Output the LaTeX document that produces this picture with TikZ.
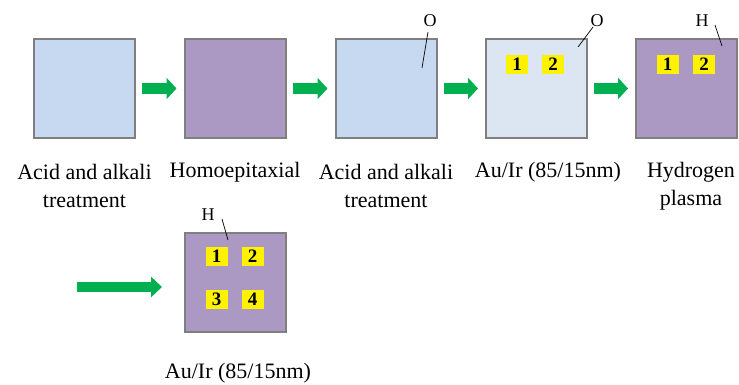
\documentclass[tikz,border=0pt]{standalone}
\usepackage{fontspec}
\setmainfont{LiberationSerif}[Extension=.ttf, UprightFont=*-Regular, BoldFont=*-Bold, ItalicFont=*-Italic, BoldItalicFont=*-BoldItalic]
\usetikzlibrary{arrows.meta}
\definecolor{lblue}{HTML}{C6D9F1}
\definecolor{llblue}{HTML}{DCE6F2}
\definecolor{lpurple}{HTML}{AB99C3}
\definecolor{agreen}{HTML}{00B050}
\definecolor{bgray}{HTML}{7F7F7F}
\tikzset{
  sample/.style={draw=bgray, line width=2pt, minimum width=101pt, minimum height=99pt, inner sep=0pt},
  lab/.style={font=\rmfamily\fontsize{22}{28}\selectfont, align=center, inner sep=0pt},
  atom/.style={font=\rmfamily\fontsize{18}{18}\selectfont, inner sep=1pt},
  pad/.style={fill=yellow, minimum width=22pt, minimum height=19pt, inner sep=0pt, font=\rmfamily\fontsize{19}{19}\selectfont\bfseries},
  flow/.style={draw=agreen, line width=11pt, -{Triangle[length=10pt,width=21pt]}},
  tick/.style={draw=black, line width=0.7pt}
}
\begin{document}
\begin{tikzpicture}[x=1pt,y=-1pt]
\useasboundingbox (0,0) rectangle (739,385);
% samples
\node[sample, fill=lblue]   (s1) at (84.5,88.5) {};
\node[sample, fill=lpurple] (s2) at (235,88.5) {};
\node[sample, fill=lblue]   (s3) at (386,88.5) {};
\node[sample, fill=llblue]  (s4) at (536.5,88.5) {};
\node[sample, fill=lpurple] (s5) at (686.5,88.5) {};
\node[sample, fill=lpurple] (s6) at (235.5,282.5) {};
% arrows
\draw[flow, shorten <=6pt, shorten >=7pt] (s1.east) -- (s2.west);
\draw[flow, shorten <=6pt, shorten >=7pt] (s2.east) -- (s3.west);
\draw[flow, shorten <=6pt, shorten >=7pt] (s3.east) -- (s4.west);
\draw[flow, shorten <=6pt, shorten >=7pt] (s4.east) -- (s5.west);
\coordinate (start) at (77,287);
\draw[draw=agreen, line width=10pt, -{Triangle[length=11pt,width=20pt]}, shorten >=22pt] (start) -- (start -| s6.west);
% labels
\node[lab] (l1) at (84.5,186) {Acid and alkali\\treatment};
\node[lab] (l2) at (235,172.5) {Homoepitaxial};
\node[lab] (l3) at (386,186) {Acid and alkali\\treatment};
\node[lab] (l4) at (548,172.5) {Au/Ir (85/15nm)};
\node[lab] (l5) at (691,186) {Hydrogen\\plasma};
\node[lab] (l6) at (238,373) {Au/Ir (85/15nm)};
% surface terminations
\node[atom] (o3) at (430,21) {O};
\coordinate (o3a) at (428,32); \coordinate (o3b) at (422,68);
\draw[tick] (o3a) -- (o3b);
\node[atom] (o4) at (597,21) {O};
\coordinate (o4a) at (593,27); \coordinate (o4b) at (578,47);
\draw[tick] (o4a) -- (o4b);
\node[atom] (h5) at (702,21) {H};
\coordinate (h5a) at (715,25); \coordinate (h5b) at (722,46);
\draw[tick] (h5a) -- (h5b);
\node[atom] (h6) at (208,215) {H};
\coordinate (h6a) at (222,219); \coordinate (h6b) at (228,240);
\draw[tick] (h6a) -- (h6b);
% contact pads
\node[pad] (p41) at (517,64.5) {1};
\node[pad] (p42) at (553,64.5) {2};
\node[pad] (p51) at (667.5,64.5) {1};
\node[pad] (p52) at (704,64.5) {2};
\node[pad] (p61) at (216.5,256.5) {1};
\node[pad] (p62) at (252.5,256.5) {2};
\node[pad] (p63) at (216.5,299.5) {3};
\node[pad] (p64) at (252.5,299.5) {4};
\end{tikzpicture}
\end{document}
